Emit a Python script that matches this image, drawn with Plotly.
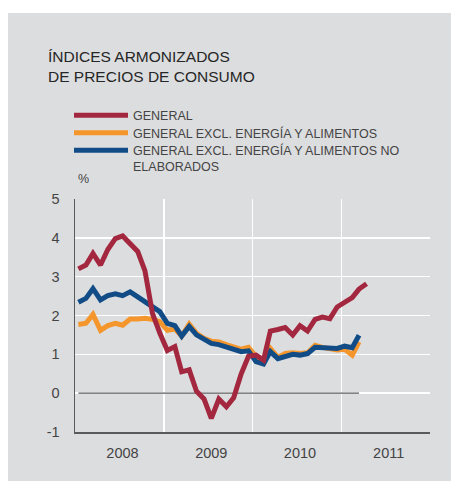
import plotly.graph_objects as go

# ---- data (monthly, Jan 2008 onwards) ----
months = [f"{2008 + i // 12}-{i % 12 + 1:02d}-15" for i in range(40)]

general = [3.20, 3.30, 3.60, 3.30, 3.70, 3.98, 4.05, 3.85, 3.65, 3.15,
           2.05, 1.55, 1.10, 1.20, 0.55, 0.60, 0.05, -0.15, -0.65, -0.15,
           -0.35, -0.12, 0.50, 0.95, 0.98, 0.85, 1.60, 1.64, 1.69, 1.50,
           1.74, 1.60, 1.90, 1.96, 1.92, 2.22, 2.34, 2.46, 2.68, 2.82]

excl_energia_alim = [1.77, 1.80, 2.03, 1.62, 1.74, 1.80, 1.75, 1.91, 1.91, 1.93,
                     1.90, 1.84, 1.62, 1.65, 1.47, 1.78, 1.54, 1.41, 1.34, 1.32,
                     1.25, 1.19, 1.13, 1.18, 0.94, 0.82, 1.15, 0.92, 1.02, 1.04,
                     1.02, 1.04, 1.23, 1.18, 1.15, 1.11, 1.13, 0.98, 1.32]

excl_energia_alim_no_elab = [2.34, 2.44, 2.69, 2.40, 2.51, 2.56, 2.51, 2.61, 2.48, 2.36,
                             2.22, 2.10, 1.80, 1.74, 1.47, 1.72, 1.50, 1.37, 1.28, 1.25,
                             1.19, 1.13, 1.07, 1.09, 0.81, 0.75, 1.07, 0.89, 0.95, 1.00,
                             0.98, 1.02, 1.18, 1.18, 1.17, 1.15, 1.21, 1.17, 1.49]

names = ["GENERAL",
         "GENERAL EXCL. ENERGÍA Y ALIMENTOS",
         "GENERAL EXCL. ENERGÍA Y ALIMENTOS NO<br>ELABORADOS"]

x_range = ["2008-01-01", "2012-01-01"]
y_ticks = [-1, 0, 1, 2, 3, 4, 5]
y_ticktext = ["-1", "0", "1", "2", "3", "4", "5"]

RED = "#a3283f"
ORANGE = "#f4962b"
BLUE = "#124c87"
BG = "#dcdddf"
FONT = "Liberation Sans, Arial, sans-serif"

W, H = 460, 486
L, R, T, B = 75, 30, 199, 54
PW, PH = W - L - R, H - T - B


def px_x(px):
    return (px - L) / PW


def px_y(py):
    return (H - B - py) / PH


fig = go.Figure()

# zero reference line across the data period
fig.add_trace(go.Scatter(
    x=[months[0], months[len(excl_energia_alim) - 1]], y=[0, 0],
    mode="lines", line=dict(color="#5a5a5a", width=1.2),
    showlegend=False, hoverinfo="skip"))

fig.add_trace(go.Scatter(
    x=months[:len(excl_energia_alim)], y=excl_energia_alim, name=names[1],
    mode="lines", line=dict(color=ORANGE, width=5), legend="legend2"))

fig.add_trace(go.Scatter(
    x=months[:len(excl_energia_alim_no_elab)], y=excl_energia_alim_no_elab, name=names[2],
    mode="lines", line=dict(color=BLUE, width=5), legend="legend3"))

fig.add_trace(go.Scatter(
    x=months[:len(general)], y=general, name=names[0],
    mode="lines", line=dict(color=RED, width=5), legend="legend"))

leg_common = dict(
    xanchor="left", yanchor="middle",
    bgcolor="rgba(0,0,0,0)", borderwidth=0,
    font=dict(family=FONT, size=12.5, color="#444444"),
    itemwidth=54, valign="top", itemclick=False, itemdoubleclick=False)

lx = px_x(69)

fig.update_layout(
    width=W, height=H,
    margin=dict(l=L, r=R, t=T, b=B, pad=0, autoexpand=False),
    paper_bgcolor="white",
    plot_bgcolor=BG,
    font=dict(family=FONT, color="#444444"),
    legend=dict(x=lx, y=px_y(115.5), **leg_common),
    legend2=dict(x=lx, y=px_y(133), **leg_common),
    legend3=dict(x=lx, y=px_y(158.5), **leg_common),
    xaxis=dict(
        type="date",
        range=x_range,
        tick0=x_range[0], dtick="M12", tickformat="%Y",
        ticklabelmode="period", ticklabelshift=3,
        showgrid=True, gridcolor="white", gridwidth=1.6,
        showline=True, linecolor="#5a5a5a", linewidth=1.5,
        ticks="outside", ticklen=7, tickcolor="rgba(0,0,0,0)",
        tickfont=dict(family=FONT, size=14.5, color="#444444"),
        zeroline=False, fixedrange=True, automargin=False),
    yaxis=dict(
        range=[-1, 5],
        tickvals=y_ticks, ticktext=y_ticktext,
        showgrid=True, gridcolor="white", gridwidth=1.6,
        showline=True, linecolor="#5a5a5a", linewidth=1.5,
        ticks="outside", ticklen=11, tickcolor="rgba(0,0,0,0)",
        tickfont=dict(family=FONT, size=14.5, color="#444444"),
        zeroline=False, fixedrange=True, automargin=False),
    shapes=[dict(type="rect", xref="paper", yref="paper", layer="below",
                 x0=px_x(8), x1=px_x(451), y0=px_y(481), y1=px_y(13),
                 fillcolor=BG, line=dict(width=0))],
    annotations=[
        dict(text="ÍNDICES ARMONIZADOS<br>DE PRECIOS DE CONSUMO",
             xref="paper", yref="paper", x=px_x(46), y=px_y(66.5),
             xanchor="left", yanchor="middle", align="left", showarrow=False,
             font=dict(family=FONT, size=15.5, color="#262626")),
        dict(text="%", xref="paper", yref="paper", x=px_x(76), y=px_y(179),
             xanchor="left", yanchor="middle", showarrow=False,
             font=dict(family=FONT, size=12.5, color="#444444")),
    ],
)

fig.write_html(
    "out.html",
    config={"displayModeBar": False, "staticPlot": True},
    post_script="document.body.style.margin='0px';document.body.style.overflow='hidden';")
